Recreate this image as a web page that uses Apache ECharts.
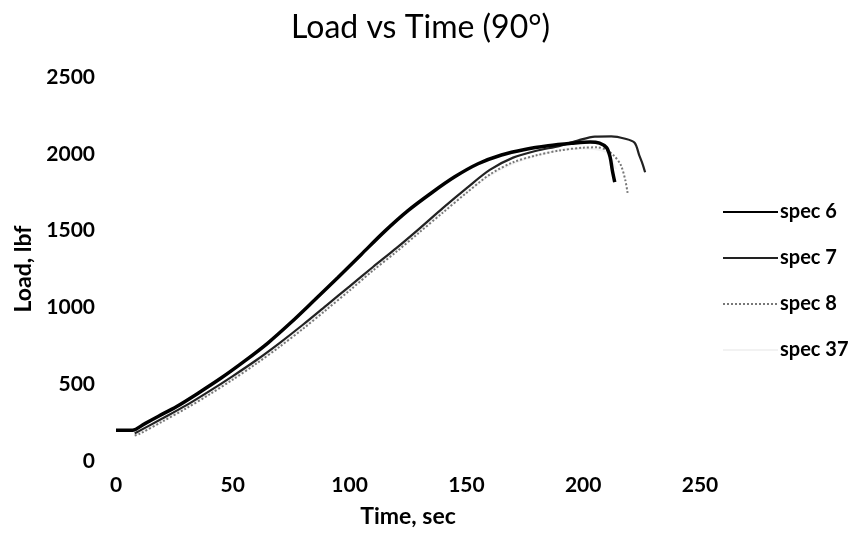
<!DOCTYPE html>
<html>
<head>
<meta charset="utf-8">
<script src="https://cdn.jsdelivr.net/npm/echarts@6/dist/echarts.min.js"></script>
<style>html,body{margin:0;padding:0;background:#fff}#c{width:856px;height:544px}</style>
</head>
<body>
<div id="c"></div>
<script>
// ---- data ----
const xTicks = [0, 50, 100, 150, 200, 250];
const yTicks = [0, 500, 1000, 1500, 2000, 2500];
const seriesNames = ['spec 6', 'spec 7', 'spec 8', 'spec 37'];

const spec6Time = [0, 7, 12, 18, 26, 35, 45, 55, 65, 75, 85, 95, 105, 115, 125, 135, 145, 155, 165, 175, 185, 195, 203, 207, 210, 211.5, 212.5, 213.5];
const spec6Load = [200, 200, 240, 290, 355, 440, 540, 650, 768, 903, 1048, 1195, 1345, 1495, 1630, 1745, 1850, 1935, 1992, 2028, 2052, 2068, 2077, 2070, 2040, 1980, 1890, 1816];

const spec7Time = [8, 10, 20, 30, 40, 50, 60, 70, 80, 90, 100, 110, 120, 130, 140, 150, 160, 170, 180, 190, 198, 205, 212, 218, 222, 224, 225.5, 226.5];
const spec7Load = [180, 196, 278, 362, 455, 553, 656, 768, 887, 1012, 1137, 1263, 1386, 1515, 1648, 1775, 1895, 1975, 2020, 2052, 2088, 2112, 2114, 2098, 2072, 1990, 1930, 1880];

const spec8Time = [8, 10, 20, 30, 40, 50, 60, 70, 80, 90, 100, 110, 120, 130, 140, 150, 160, 170, 180, 190, 200, 206, 210, 213, 216, 218, 219];
const spec8Load = [165, 176, 258, 342, 433, 530, 633, 743, 860, 984, 1110, 1240, 1362, 1490, 1618, 1745, 1865, 1945, 1990, 2022, 2040, 2042, 2025, 1990, 1930, 1830, 1745];

const spec37Time = [8, 20, 40, 60, 80, 100, 120, 140, 160, 180, 200, 210, 214];
const spec37Load = [168, 262, 438, 640, 866, 1120, 1370, 1625, 1860, 1990, 2035, 2010, 1900];

function pairs(t, v) { return t.map((x, i) => [x, v[i]]); }

const chart = echarts.init(document.getElementById('c'));
const font = 'Lato, "Open Sans", sans-serif';
chart.setOption({
  animation: false,
  backgroundColor: '#fff',
  title: {
    text: 'Load vs Time (90°)',
    left: 286, top: 7,
    textStyle: { fontFamily: font, fontSize: 32, fontWeight: 'normal', color: '#000' }
  },
  legend: {
    orient: 'vertical',
    left: 717, top: 197,
    itemWidth: 55, itemHeight: 14, itemGap: 26,
    data: seriesNames,
    itemStyle: { opacity: 0 },
    textStyle: { fontFamily: font, fontSize: 20, fontWeight: 'bold', color: '#000', padding: [0, 0, 0, -3] }
  },
  grid: { left: 116, right: 156, top: 77, bottom: 83 },
  xAxis: {
    type: 'value', min: xTicks[0], max: xTicks[xTicks.length - 1], interval: xTicks[1] - xTicks[0],
    name: 'Time, sec', nameLocation: 'middle', nameGap: 44,
    nameTextStyle: { fontFamily: font, fontSize: 23, fontWeight: 'bold', color: '#000' },
    axisLine: { show: false }, axisTick: { show: false }, splitLine: { show: false },
    axisLabel: { fontFamily: font, fontSize: 21, fontWeight: 'bold', color: '#000', margin: 14, formatter: v => String(v) }
  },
  yAxis: {
    type: 'value', min: yTicks[0], max: yTicks[yTicks.length - 1], interval: yTicks[1] - yTicks[0],
    name: 'Load, lbf', nameLocation: 'middle', nameGap: 80, nameRotate: 90,
    nameTextStyle: { fontFamily: font, fontSize: 23, fontWeight: 'bold', color: '#000' },
    axisLine: { show: false }, axisTick: { show: false }, splitLine: { show: false },
    axisLabel: { fontFamily: font, fontSize: 21, fontWeight: 'bold', color: '#000', margin: 21, formatter: v => String(v) }
  },
  series: [
    { name: seriesNames[0], type: 'line', data: pairs(spec6Time, spec6Load), symbol: 'none', smooth: 0.3, z: 5,
      lineStyle: { color: '#000', width: 3.5 }, itemStyle: { color: '#000' } },
    { name: seriesNames[1], type: 'line', data: pairs(spec7Time, spec7Load), symbol: 'none', smooth: 0.3, z: 4,
      lineStyle: { color: '#222', width: 2.2 }, itemStyle: { color: '#222' } },
    { name: seriesNames[2], type: 'line', data: pairs(spec8Time, spec8Load), symbol: 'none', smooth: 0.3, z: 3,
      lineStyle: { color: '#777', width: 2, type: 'dotted' }, itemStyle: { color: '#777' } },
    { name: seriesNames[3], type: 'line', data: pairs(spec37Time, spec37Load), symbol: 'none', smooth: 0.3, z: 2,
      lineStyle: { color: '#f2f2f2', width: 2 }, itemStyle: { color: '#f2f2f2' } }
  ]
});
</script>
</body>
</html>
